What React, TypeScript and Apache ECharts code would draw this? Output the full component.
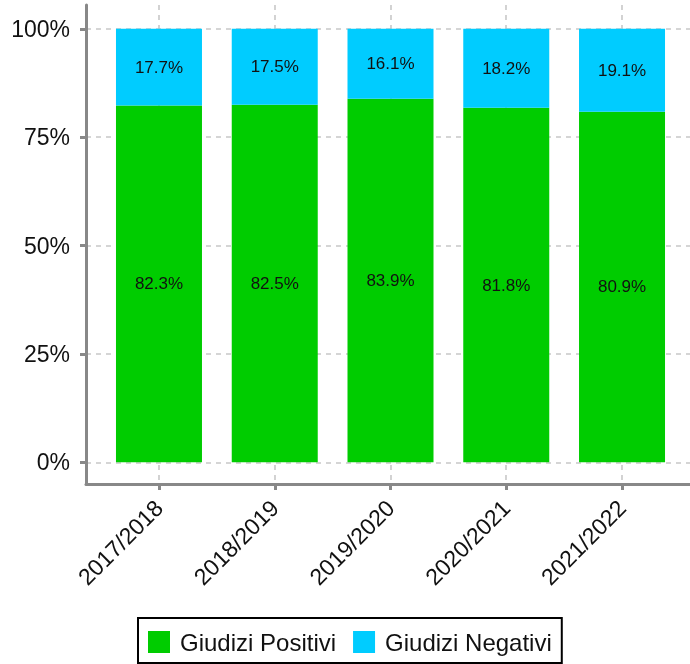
import React, { useEffect, useRef } from "react";
import * as echarts from "echarts";

const categories = ["2017/2018", "2018/2019", "2019/2020", "2020/2021", "2021/2022"];
const positivi = [82.3, 82.5, 83.9, 81.8, 80.9];
const negativi = [17.7, 17.5, 16.1, 18.2, 19.1];
const yTicks = [0, 25, 50, 75, 100];
const seriesNames = ["Giudizi Positivi", "Giudizi Negativi"];

const FONT = "Liberation Sans";

export default function App() {
  const ref = useRef<HTMLDivElement>(null);
  useEffect(() => {
    if (!ref.current) return;
    const chart = echarts.init(ref.current, null, { renderer: "svg" });
    const idx = categories.map((_, i) => i);
    const gridLine = { show: true, lineStyle: { color: "#c8c8c8", width: 1.6, type: [5, 5] as any } };
    const axisLine = { show: true, onZero: false, lineStyle: { color: "#888888", width: 3 } };
    const label = {
      show: true,
      position: "inside" as const,
      color: "#111",
      fontFamily: FONT,
      fontSize: 17,
      formatter: (p: any) => p.value.toFixed(1) + "%",
    };
    chart.setOption({
      animation: false,
      grid: [
        { left: 86, right: 0, top: 5, bottom: 180, containLabel: false },
        { left: 101.1, right: 10.1, top: 5, bottom: 180, containLabel: false },
      ],
      xAxis: [
        {
          type: "value",
          gridIndex: 0,
          min: -0.6307,
          max: 4.5875,
          axisLine,
          axisTick: { show: true, length: 6, lineStyle: { color: "#888888", width: 3 }, customValues: idx },
          axisLabel: {
            customValues: idx,
            rotate: 45,
            margin: 20,
            color: "#111",
            fontFamily: FONT,
            fontSize: 23,
            formatter: (v: number) => categories[Math.round(v)] ?? "",
          },
          splitLine: gridLine,
        },
        {
          type: "category",
          gridIndex: 1,
          data: categories,
          show: false,
        },
      ],
      yAxis: [
        {
          type: "value",
          gridIndex: 0,
          min: -5,
          max: 105.5,
          axisLine,
          axisTick: { show: true, length: 6, lineStyle: { color: "#888888", width: 3 }, customValues: yTicks },
          axisLabel: {
            customValues: yTicks,
            margin: 16,
            color: "#111",
            fontFamily: FONT,
            fontSize: 23,
            formatter: (v: number) => v + "%",
          },
          splitLine: gridLine,
        },
        {
          type: "value",
          gridIndex: 1,
          min: -5,
          max: 105.5,
          show: false,
          splitLine: { show: false },
        },
      ],
      legend: {
        data: seriesNames,
        left: 138,
        top: 618,
        orient: "horizontal",
        icon: "rect",
        itemWidth: 22,
        itemHeight: 22,
        itemGap: 17,
        padding: [12, 10, 9, 10],
        borderColor: "#000",
        borderWidth: 2,
        textStyle: { color: "#111", fontFamily: FONT, fontSize: 24, lineHeight: 22, padding: [0, 0, 0, 5] },
      },
      series: [
        {
          name: seriesNames[0],
          type: "bar",
          xAxisIndex: 1,
          yAxisIndex: 1,
          stack: "total",
          barWidth: 86,
          itemStyle: { color: "#00CC00" },
          label,
          data: positivi,
        },
        {
          name: seriesNames[1],
          type: "bar",
          xAxisIndex: 1,
          yAxisIndex: 1,
          stack: "total",
          barWidth: 86,
          itemStyle: { color: "#00CCFF" },
          label,
          data: negativi,
        },
      ],
    });
    return () => chart.dispose();
  }, []);
  return <div ref={ref} style={{ position: "fixed", left: 0, top: 0, width: 690, height: 664 }} />;
}
